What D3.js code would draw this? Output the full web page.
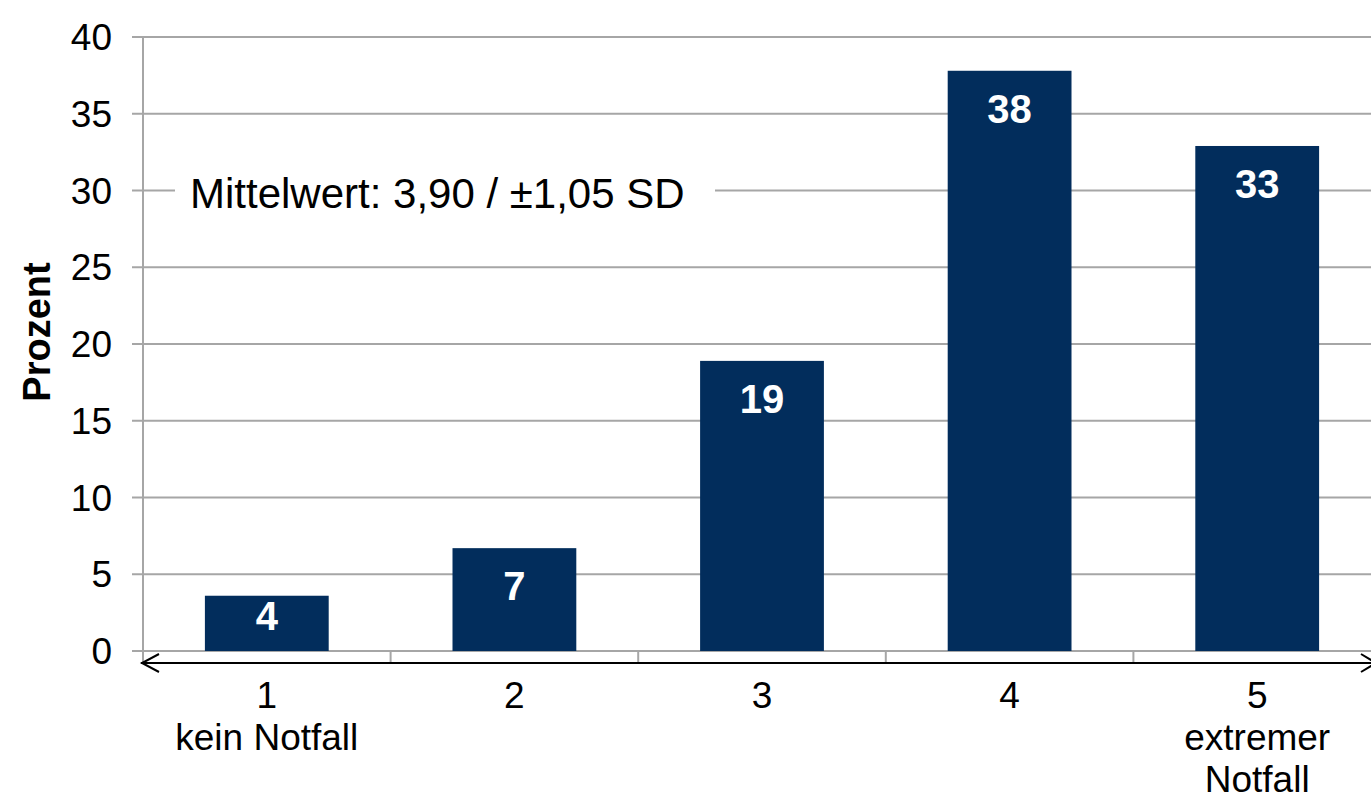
<!DOCTYPE html>
<html>
<meta charset="utf-8">
<title>Notfall</title>
<style>
  body { margin: 0; background: #fff; }
  svg text { font-family: "Liberation Sans", Arial, sans-serif; }
  .grid line { stroke: #a6a6a6; stroke-width: 2px; }
</style>
<body>
<div id="chart"></div>
<script src="https://d3js.org/d3.v7.min.js"></script>
<script>
var categories = ["1", "2", "3", "4", "5"];
var catLabels = [["1", "kein Notfall"], ["2"], ["3"], ["4"], ["5", "extremer", "Notfall"]];
var values = [3.6, 6.7, 18.9, 37.8, 32.9];
var shown = [4, 7, 19, 38, 33];
var yTicks = [0, 5, 10, 15, 20, 25, 30, 35, 40];

var width = 1371, height = 793;
var plotLeft = 143, plotTop = 37, plotBottom = 651;

var svg = d3.select("#chart").append("svg")
    .attr("width", width)
    .attr("height", height);

var y = d3.scaleLinear().domain([0, 40]).range([plotBottom, plotTop]);
var x = d3.scaleBand().domain(categories).range([plotLeft, 1381]).paddingInner(0.5).paddingOuter(0.25);

// gridlines
svg.append("g").attr("class", "grid")
  .selectAll("line")
    .data(yTicks)
  .enter().append("line")
    .attr("x1", plotLeft - 11)
    .attr("x2", width)
    .attr("y1", function(d) { return y(d); })
    .attr("y2", function(d) { return y(d); });

// y axis line
svg.append("line")
    .attr("x1", plotLeft).attr("x2", plotLeft)
    .attr("y1", plotTop).attr("y2", plotBottom + 11)
    .style("stroke", "#a6a6a6").style("stroke-width", 2);

// y tick labels
svg.append("g")
  .selectAll("text")
    .data(yTicks)
  .enter().append("text")
    .attr("x", 112)
    .attr("y", function(d) { return y(d) + 13; })
    .attr("text-anchor", "end")
    .style("font-size", "37px")
    .text(function(d) { return d; });

// x category tick marks
var step = x.step();
svg.append("g")
  .selectAll("line")
    .data(categories.slice(1))
  .enter().append("line")
    .attr("x1", function(d) { return x(d) - step * 0.25; })
    .attr("x2", function(d) { return x(d) - step * 0.25; })
    .attr("y1", plotBottom)
    .attr("y2", plotBottom + 11)
    .style("stroke", "#a6a6a6").style("stroke-width", 2);

// double arrow line
svg.append("line")
    .attr("x1", plotLeft - 2).attr("x2", width)
    .attr("y1", plotBottom + 12).attr("y2", plotBottom + 12)
    .style("stroke", "#000").style("stroke-width", 2);
svg.append("path")
    .attr("d", "M" + (plotLeft + 16) + "," + (plotBottom + 3) + "L" + (plotLeft - 1) + "," + (plotBottom + 12) + "L" + (plotLeft + 16) + "," + (plotBottom + 21))
    .style("fill", "none").style("stroke", "#000").style("stroke-width", 2);
svg.append("path")
    .attr("d", "M" + (width - 10) + "," + (plotBottom + 3) + "L" + (width + 5) + "," + (plotBottom + 12) + "L" + (width - 10) + "," + (plotBottom + 21))
    .style("fill", "none").style("stroke", "#000").style("stroke-width", 2);

// bars
svg.append("g")
  .selectAll("rect")
    .data(values)
  .enter().append("rect")
    .attr("x", function(d, i) { return x(categories[i]); })
    .attr("y", function(d) { return y(d); })
    .attr("width", x.bandwidth())
    .attr("height", function(d) { return plotBottom - y(d); })
    .style("fill", "#022d5c");

// value labels
svg.append("g")
  .selectAll("text")
    .data(values)
  .enter().append("text")
    .attr("x", function(d, i) { return x(categories[i]) + x.bandwidth() / 2; })
    .attr("y", function(d) { return Math.min(y(d) + 52, plotBottom - 21); })
    .attr("text-anchor", "middle")
    .style("font-size", "40px")
    .style("font-weight", "bold")
    .style("fill", "#fff")
    .text(function(d, i) { return shown[i]; });

// category labels
catLabels.forEach(function(lines, i) {
  var t = svg.append("text")
      .attr("text-anchor", "middle")
      .style("font-size", "37px");
  lines.forEach(function(l, j) {
    t.append("tspan")
        .attr("x", x(categories[i]) + x.bandwidth() / 2)
        .attr("y", 708 + j * 42)
        .text(l);
  });
});

// Mittelwert box
svg.append("rect")
    .attr("x", 175).attr("y", 168)
    .attr("width", 540).attr("height", 50)
    .style("fill", "#fff");
svg.append("text")
    .attr("x", 190).attr("y", 208)
    .style("font-size", "42px")
    .text("Mittelwert: 3,90 / \u00b11,05 SD");

// y axis title
svg.append("text")
    .attr("transform", "translate(50,332) rotate(-90)")
    .attr("text-anchor", "middle")
    .style("font-size", "38px")
    .style("font-weight", "bold")
    .text("Prozent");
</script>
</body>
</html>
